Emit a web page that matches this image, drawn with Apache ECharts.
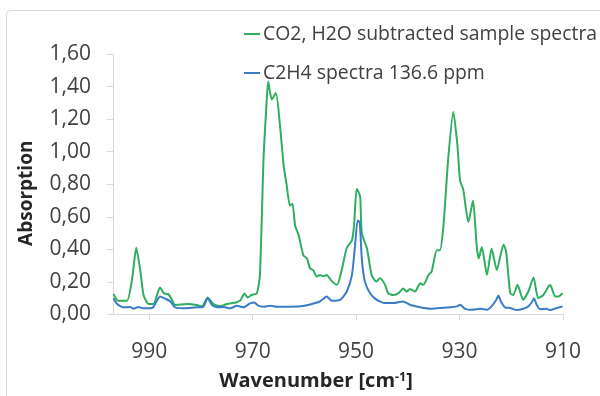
<!DOCTYPE html>
<html>
<head>
<meta charset="utf-8">
<script src="https://cdn.jsdelivr.net/npm/echarts@6/dist/echarts.min.js"></script>
<style>
html,body{margin:0;padding:0;background:#fff;}
#chart{width:600px;height:396px;}
</style>
</head>
<body>
<div id="chart"></div>
<script>
// Wavenumber ticks
var xTicks = [990, 970, 950, 930, 910];
var seriesNames = ['CO2, H2O subtracted sample spectra', 'C2H4 spectra 136.6 ppm'];

// Green: CO2, H2O subtracted sample spectra
var greenWn = [996.9,996.0,994.3,993.3,992.5,991.7,991.1,990.1,989.2,987.9,987.2,986.3,985.6,985.0,982.7,980.8,979.8,978.7,977.6,976.3,975.0,973.1,972.3,971.6,971.0,970.2,969.2,968.6,967.9,967.4,967.0,966.3,965.5,964.7,964.0,963.4,962.8,962.3,961.8,961.1,960.2,959.5,958.9,958.3,957.6,957.0,956.3,955.7,954.7,953.7,952.8,951.8,950.8,950.4,949.9,949.5,949.2,948.9,947.9,947.0,946.1,945.4,944.4,943.8,942.8,941.8,940.9,940.2,939.6,938.6,937.6,937.0,936.0,935.4,934.4,933.8,933.1,932.2,931.2,930.4,929.9,929.3,928.3,927.4,926.7,926.3,925.7,924.7,923.8,922.8,921.5,921.0,920.2,919.6,918.8,917.7,916.7,915.7,914.8,913.8,912.5,911.5,910.9,910.1];
var greenAbs = [0.127,0.084,0.084,0.22,0.41,0.265,0.12,0.064,0.064,0.166,0.131,0.125,0.09,0.058,0.064,0.058,0.05,0.105,0.064,0.05,0.064,0.075,0.09,0.129,0.105,0.12,0.13,0.24,0.954,1.25,1.431,1.32,1.36,1.157,0.913,0.79,0.669,0.68,0.547,0.486,0.364,0.344,0.283,0.273,0.233,0.243,0.235,0.243,0.205,0.182,0.27,0.41,0.456,0.547,0.771,0.75,0.72,0.5,0.405,0.243,0.202,0.222,0.182,0.13,0.12,0.131,0.16,0.141,0.157,0.141,0.192,0.182,0.243,0.263,0.395,0.395,0.55,0.954,1.245,1.035,0.82,0.77,0.568,0.70,0.425,0.344,0.415,0.243,0.405,0.273,0.43,0.387,0.131,0.12,0.182,0.09,0.141,0.227,0.1,0.12,0.182,0.111,0.111,0.131];

// Blue: C2H4 spectra 136.6 ppm
var blueWn = [996.9,996.2,995.0,993.7,993.0,992.1,991.1,989.8,989.2,987.9,986.9,985.9,985.0,982.7,980.8,979.6,978.7,977.9,976.9,975.6,974.3,973.1,971.8,970.5,969.7,968.9,967.9,966.6,965.3,962.8,960.8,958.9,957.0,955.7,954.7,953.1,951.8,950.8,950.2,949.7,949.3,948.9,948.3,947.3,946.0,944.4,942.8,940.9,939.6,937.6,935.7,933.8,931.8,930.5,929.9,928.9,927.6,926.0,924.7,923.8,922.9,922.5,922.0,921.2,920.2,918.9,917.7,916.7,916.0,915.6,915.1,914.4,913.2,912.5,911.2,910.1];
var blueAbs = [0.1,0.064,0.044,0.046,0.035,0.046,0.038,0.038,0.046,0.111,0.097,0.08,0.044,0.038,0.044,0.044,0.1,0.06,0.044,0.046,0.038,0.054,0.044,0.068,0.074,0.054,0.048,0.054,0.048,0.048,0.05,0.062,0.08,0.111,0.084,0.09,0.141,0.243,0.425,0.578,0.565,0.344,0.202,0.131,0.09,0.07,0.07,0.08,0.06,0.044,0.035,0.04,0.044,0.05,0.06,0.035,0.029,0.035,0.029,0.05,0.09,0.117,0.08,0.044,0.04,0.027,0.035,0.05,0.077,0.1,0.06,0.033,0.035,0.027,0.04,0.05];

function pairs(xs, ys){ return xs.map(function(x,i){ return [x, ys[i]]; }); }

var chart = echarts.init(document.getElementById('chart'), null, {renderer:'canvas'});
var FONT = 'Open Sans';
chart.setOption({
  animation:false,
  backgroundColor:'#ffffff',
  graphic:[{type:'rect', shape:{x:6.5,y:10.5,width:640,height:420,r:4}, style:{fill:'none',stroke:'#d9d9d9',lineWidth:1}, z:-10}],
  grid:{left:113, right:37, top:54, bottom:79.5},
  legend:{
    orient:'vertical', left:239, top:19, itemWidth:16, itemHeight:2, itemGap:19, icon:'rect',
    textStyle:{fontFamily:FONT, fontSize:19.4, color:'#404040', lineHeight:20, padding:[0,0,0,-2]},
    data:seriesNames
  },
  xAxis:{
    type:'value', inverse:true, min:910, max:997,
    axisLine:{show:true, lineStyle:{color:'#d9d9d9', width:1}},
    axisTick:{show:true, customValues:xTicks, length:6, inside:false, lineStyle:{color:'#d9d9d9'}},
    axisLabel:{customValues:xTicks, fontFamily:FONT, fontSize:21, color:'#404040', margin:27},
    splitLine:{show:false},
    name:'{a|Wavenumber [cm}{s|-1}{a|]}', nameLocation:'middle', nameGap:56,
    nameTextStyle:{padding:[0,44,0,0], rich:{a:{fontFamily:FONT, fontSize:20, fontWeight:'bold', color:'#262626'}, s:{fontFamily:FONT, fontSize:12.5, fontWeight:'bold', color:'#262626', verticalAlign:'top', padding:[0,0,8,0]}}}
  },
  yAxis:{
    type:'value', min:0, max:1.6, interval:0.2,
    axisLine:{show:true, lineStyle:{color:'#d9d9d9', width:1}},
    axisTick:{show:true, length:6, inside:false, lineStyle:{color:'#d9d9d9'}},
    axisLabel:{fontFamily:FONT, fontSize:21, color:'#404040', margin:22, formatter:function(v){ return v.toFixed(2).replace('.', ','); }},
    splitLine:{show:false},
    name:'Absorption', nameLocation:'middle', nameGap:77, nameRotate:90,
    nameTextStyle:{fontFamily:FONT, fontSize:19, fontWeight:'bold', color:'#262626', padding:[0,18,0,0]}
  },
  series:[
    {name:seriesNames[0], type:'line', data:pairs(greenWn, greenAbs), showSymbol:false, symbol:'none', smooth:0.2, lineStyle:{color:'#2eae5f', width:2}, itemStyle:{color:'#2eae5f'}},
    {name:seriesNames[1], type:'line', data:pairs(blueWn, blueAbs), showSymbol:false, symbol:'none', smooth:0.2, lineStyle:{color:'#3a7cc7', width:2}, itemStyle:{color:'#3a7cc7'}}
  ]
});
</script>
</body>
</html>
